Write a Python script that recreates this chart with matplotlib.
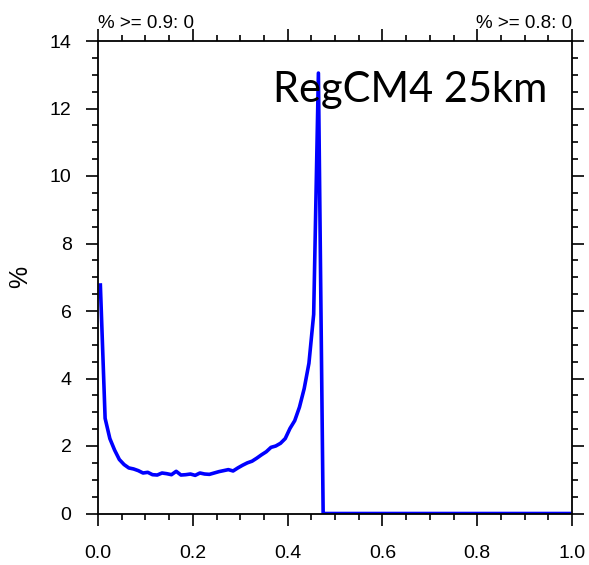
import numpy as np
import matplotlib
matplotlib.use("Agg")
import matplotlib.pyplot as plt
from matplotlib.ticker import MultipleLocator

# bin centres (0.005 ... 0.995) and frequency in %
bins = np.round(np.arange(0.005, 1.0, 0.01), 3)
freq_head = [6.77, 2.82, 2.22, 1.88, 1.60, 1.45, 1.35, 1.32, 1.27, 1.20,
             1.22, 1.15, 1.14, 1.20, 1.18, 1.15, 1.25, 1.14, 1.15, 1.17,
             1.13, 1.20, 1.17, 1.16, 1.20, 1.24, 1.27, 1.30, 1.26, 1.35,
             1.43, 1.50, 1.55, 1.64, 1.74, 1.83, 1.96, 2.00, 2.08, 2.22,
             2.52, 2.75, 3.15, 3.70, 4.45, 5.90, 13.05]
freq_tail = [0.0] * (len(bins) - len(freq_head))
freq = np.array(freq_head + freq_tail)

titulo = "RegCM4 25km"
txt_esq = "% >= 0.9: 0"
txt_dir = "% >= 0.8: 0"

plt.rcParams['font.family'] = ['Liberation Sans', 'DejaVu Sans']

fig = plt.figure(figsize=(5.89, 5.65), dpi=100)
ax = fig.add_axes([98/589, 1 - 513.5/565, 474/589, 472.5/565])

ax.plot(bins, freq, color='#0000ff', lw=2.6, solid_joinstyle='round')

ax.set_xlim(0, 1)
ax.set_ylim(0, 14)
ax.xaxis.set_major_locator(MultipleLocator(0.2))
ax.xaxis.set_minor_locator(MultipleLocator(0.05))
ax.yaxis.set_major_locator(MultipleLocator(2))
ax.yaxis.set_minor_locator(MultipleLocator(0.5))
ax.set_xticks(np.arange(0, 1.01, 0.2))
ax.set_xticklabels(["0.0", "0.2", "0.4", "0.6", "0.8", "1.0"])

# estilo NCL: ticks para fora nos quatro lados
ax.tick_params(which='both', direction='out', top=True, right=True,
               labeltop=False, labelright=False, width=1.2, color='black')
ax.tick_params(which='major', length=8.5, labelsize=14)
ax.tick_params(axis='x', which='major', pad=14)
ax.tick_params(axis='y', which='major', pad=10.5)
ax.tick_params(which='minor', length=4.3)
for s in ax.spines.values():
    s.set_linewidth(1.3)

ax.set_ylabel("%", fontsize=18)
ax.yaxis.set_label_coords(-0.14, 0.5)

ax.text(0.947, 0.8715, titulo, transform=ax.transAxes, ha='right',
        va='baseline', fontsize=30, family=['Lato', 'DejaVu Sans'])

ax.annotate(txt_esq, xy=(0, 1), xycoords='axes fraction', xytext=(0, 9.4),
            textcoords='offset points', ha='left', va='baseline', fontsize=13.5)
ax.annotate(txt_dir, xy=(1, 1), xycoords='axes fraction', xytext=(0, 9.4),
            textcoords='offset points', ha='right', va='baseline', fontsize=13.5)

fig.savefig("out.png", dpi=100)
